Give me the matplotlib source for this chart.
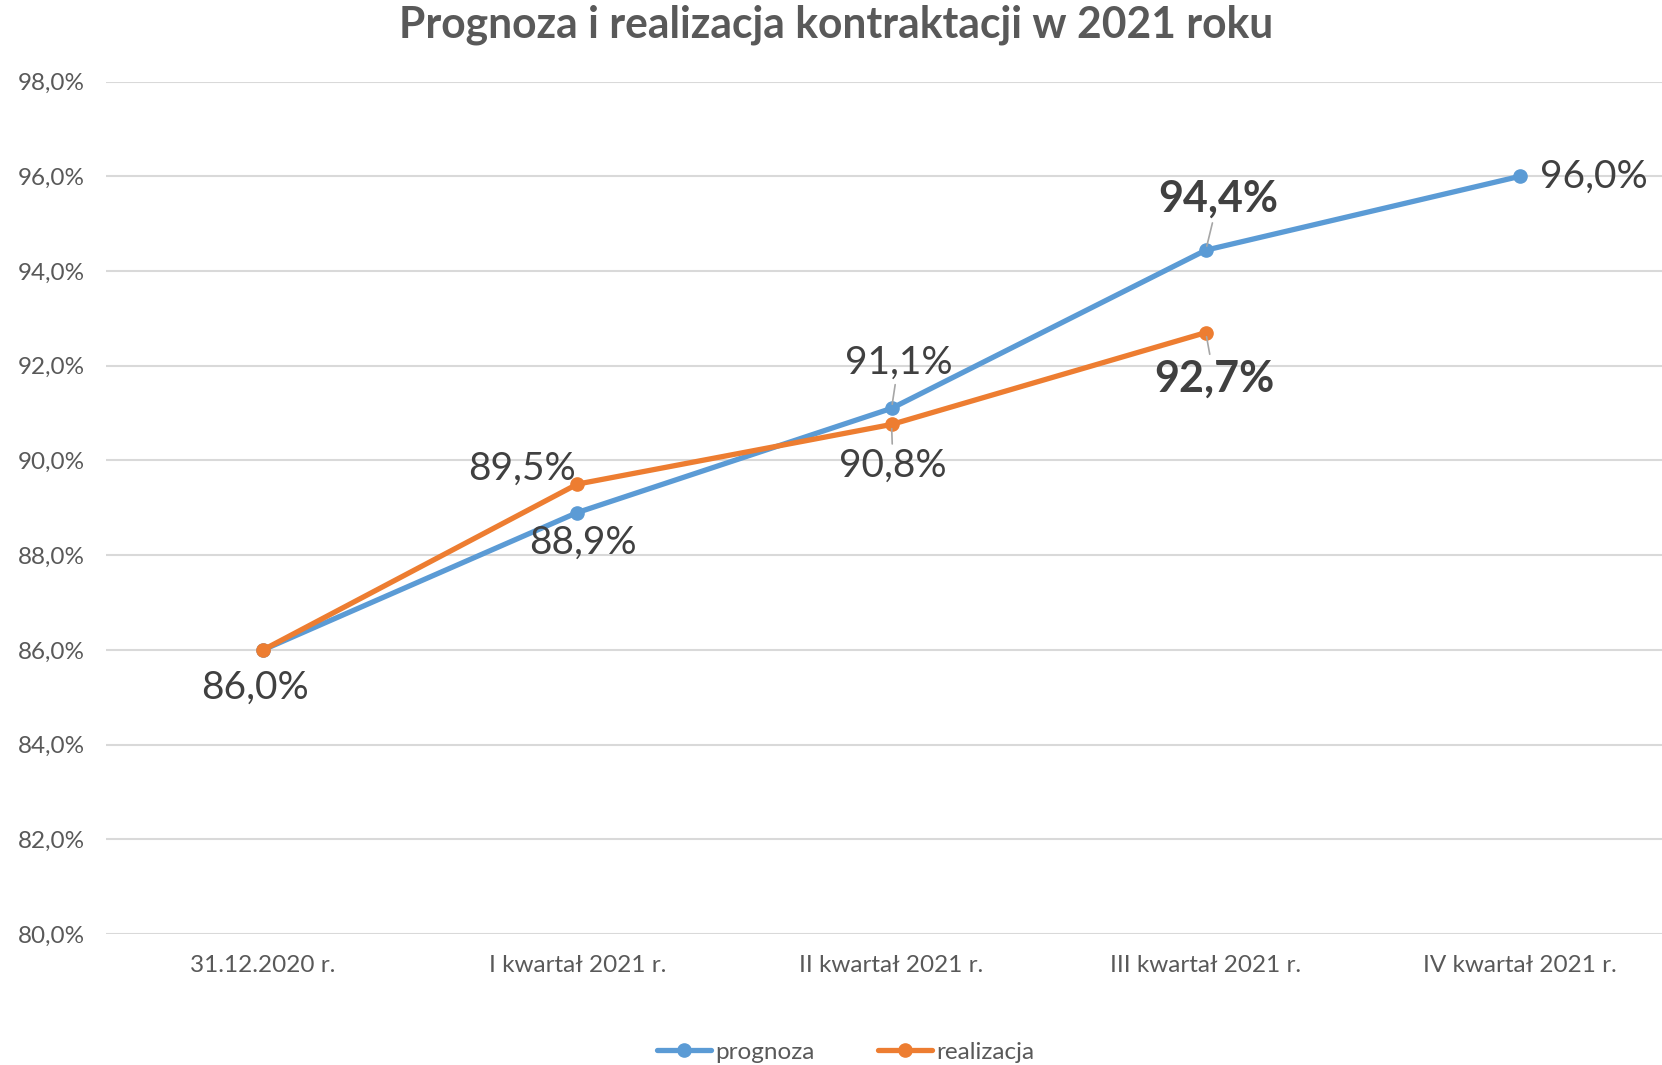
import matplotlib
matplotlib.use('Agg')
import matplotlib.pyplot as plt
from matplotlib.ticker import FuncFormatter

plt.rcParams['font.family'] = ['Lato', 'DejaVu Sans']

categories = ['31.12.2020 r.', 'I kwartał 2021 r.', 'II kwartał 2021 r.',
              'III kwartał 2021 r.', 'IV kwartał 2021 r.']
prognoza = [86.0, 88.9, 91.1, 94.44, 96.0]
realizacja = [86.0, 89.5, 90.76, 92.7]

# label offsets in points (dx, dy), bold flag, leader line flag
prog_labels = [None, (4, -22, False, False), (5, 33, False, True),
               (9, 37, True, True), (53, 0, False, False)]
real_labels = [(-6, -27, False, False), (-40, 11, False, False),
               (1, -30, False, True), (6, -33, True, True)]

BLUE = '#5B9BD5'
ORANGE = '#ED7D31'
TXT = '#404040'

fig = plt.figure(figsize=(16.62, 10.65), dpi=100)
ax = fig.add_axes([0.0638, 0.123, 0.9453, 0.8004])

x = list(range(len(categories)))
ax.plot(x, prognoza, color=BLUE, lw=3.8, marker='o', ms=9.5,
        solid_capstyle='round', label='prognoza', zorder=3)
ax.plot(x[:len(realizacja)], realizacja, color=ORANGE, lw=3.8, marker='o', ms=9.5,
        solid_capstyle='round', label='realizacja', zorder=4)


def fmt(v):
    return f'{v:.1f}'.replace('.', ',') + '%'


def put_labels(vals, specs):
    for i, (v, s) in enumerate(zip(vals, specs)):
        if s is None:
            continue
        dx, dy, bold, leader = s
        kw = {}
        if leader:
            kw['arrowprops'] = dict(arrowstyle='-', color='#a6a6a6', lw=1.2,
                                    shrinkA=1, shrinkB=3)
        ax.annotate(fmt(v), (i, v), xytext=(dx, dy), textcoords='offset points',
                    ha='center', va='center', fontsize=31 if bold else 28, color=TXT,
                    fontweight='bold' if bold else 'normal', zorder=5, **kw)


put_labels(prognoza, prog_labels)
put_labels(realizacja, real_labels)

ax.set_xlim(-0.5, 4.5)
ax.set_ylim(80, 98)
ax.set_yticks([80 + 2 * i for i in range(10)])
ax.yaxis.set_major_formatter(FuncFormatter(lambda v, p: fmt(v)))
ax.set_xticks(x)
ax.set_xticklabels(categories)
ax.tick_params(axis='both', length=0, labelsize=17.5, labelcolor='#595959')
ax.tick_params(axis='y', pad=15)
ax.tick_params(axis='x', pad=15)
ax.grid(axis='y', color='#d9d9d9', lw=1.5)
ax.set_axisbelow(True)
for sp in ax.spines.values():
    sp.set_visible(False)

fig.text(0.503, 0.977, 'Prognoza i realizacja kontraktacji w 2021 roku', ha='center', va='center',
         fontsize=30.7, fontweight='bold', color='#595959')

fig.legend(loc='center', bbox_to_anchor=(0.509, 0.012), ncol=2, frameon=False,
           fontsize=17.5, labelcolor='#595959', handlelength=2.2, handletextpad=0.2,
           columnspacing=2.6)

fig.savefig('out.png', dpi=100)
